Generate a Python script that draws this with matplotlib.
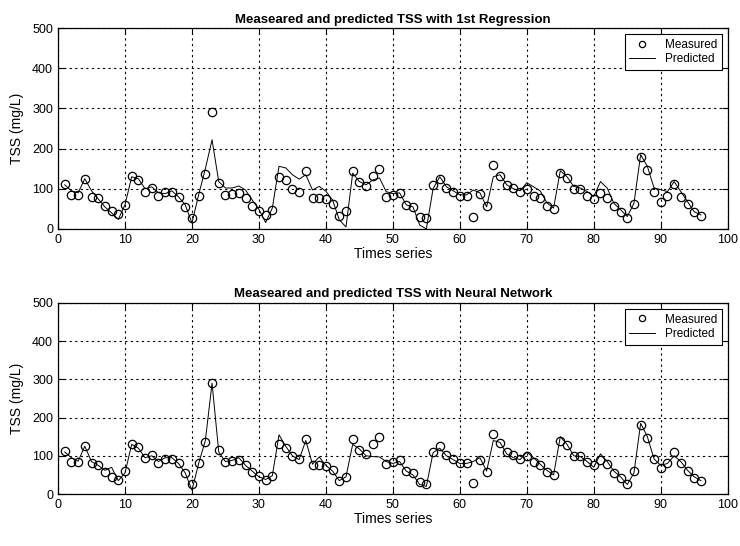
import matplotlib
matplotlib.use("Agg")
import matplotlib.pyplot as plt

plt.rcParams['font.family'] = ['Liberation Sans', 'DejaVu Sans']

x = list(range(1, 97))

measured = [113, 84, 84, 125, 80, 77, 57, 45, 37, 60,
            132, 122, 93, 101, 82, 91, 92, 80, 55, 27,
            82, 136, 290, 114, 84, 87, 89, 76, 58, 46,
            36, 48, 130, 121, 100, 91, 145, 77, 77, 74,
            62, 33, 45, 144, 116, 106, 131, 150, 79, 85,
            90, 59, 54, 31, 27, 110, 125, 103, 92, 81,
            81, 29, 88, 58, 158, 133, 109, 103, 92, 100,
            83, 76, 58, 50, 140, 128, 99, 99, 83, 75,
            89, 78, 56, 42, 27, 61, 180, 146, 91, 68,
            81, 111, 80, 61, 43, 33]

pred_regression = [110, 95, 90, 125, 95, 75, 55, 40, 24, 60,
                   130, 125, 100, 105, 90, 88, 95, 80, 60, 15,
                   85, 150, 222, 118, 102, 102, 107, 97, 72, 49,
                   16, 52, 156, 152, 135, 124, 135, 97, 106, 94,
                   72, 23, 5, 139, 118, 110, 122, 127, 93, 88,
                   90, 60, 55, 10, 0, 100, 130, 105, 95, 85,
                   85, 97, 90, 55, 130, 135, 110, 100, 95, 115,
                   105, 95, 65, 52, 145, 130, 106, 102, 93, 81,
                   118, 102, 64, 48, 31, 64, 185, 156, 102, 98,
                   93, 118, 93, 68, 43, 35]

pred_nn = [110, 95, 86, 125, 85, 75, 62, 70, 35, 55,
           130, 120, 95, 100, 85, 95, 95, 80, 55, 10,
           80, 140, 290, 110, 85, 88, 95, 75, 60, 45,
           38, 48, 155, 125, 100, 90, 140, 78, 97, 75,
           60, 35, 45, 130, 118, 100, 98, 97, 85, 80,
           85, 60, 50, 25, 20, 108, 120, 100, 90, 80,
           80, 85, 95, 60, 140, 135, 105, 95, 90, 110,
           95, 78, 62, 50, 150, 130, 100, 98, 85, 70,
           105, 85, 60, 45, 25, 55, 185, 150, 92, 75,
           80, 100, 85, 62, 45, 35]

titles = ["Measeared and predicted TSS with 1st Regression",
          "Measeared and predicted TSS with Neural Network"]
xticks = list(range(0, 101, 10))
yticks = list(range(0, 501, 100))

fig = plt.figure(figsize=(7.4, 5.46), dpi=100)
ax1 = fig.add_axes([0.0784, 0.5806, 0.905, 0.368])
ax2 = fig.add_axes([0.0784, 0.0952, 0.905, 0.350])

for ax, pred, title in [(ax1, pred_regression, titles[0]), (ax2, pred_nn, titles[1])]:
    ax.plot(x, measured, linestyle='none', marker='o', markersize=6,
            markerfacecolor='none', markeredgecolor='black', markeredgewidth=0.9,
            label='Measured')
    ax.plot(x, pred, color='black', linewidth=0.7, label='Predicted')
    ax.set_xlim(0, 100)
    ax.set_ylim(0, 500)
    ax.set_xticks(xticks)
    ax.set_yticks(yticks)
    ax.grid(True, color='black', linestyle=(0, (2, 3)), linewidth=0.8)
    ax.tick_params(direction='in', top=True, right=True, labelsize=9, length=4)
    for s in ax.spines.values():
        s.set_linewidth(0.9)
        s.set_color('black')
    ax.set_title(title, fontsize=9.5, fontweight='bold', pad=4)
    ax.set_xlabel('Times series', fontsize=10, labelpad=1)
    ax.set_ylabel('TSS (mg/L)', fontsize=10, labelpad=6)
    leg = ax.legend(loc='upper right', fontsize=8.5, frameon=True, fancybox=False,
                    edgecolor='black', framealpha=1, borderpad=0.4,
                    handlelength=2.2, labelspacing=0.2, borderaxespad=0.5,
                    markerscale=0.75)
    leg.get_frame().set_linewidth(0.8)

fig.savefig('out.png', dpi=100)
